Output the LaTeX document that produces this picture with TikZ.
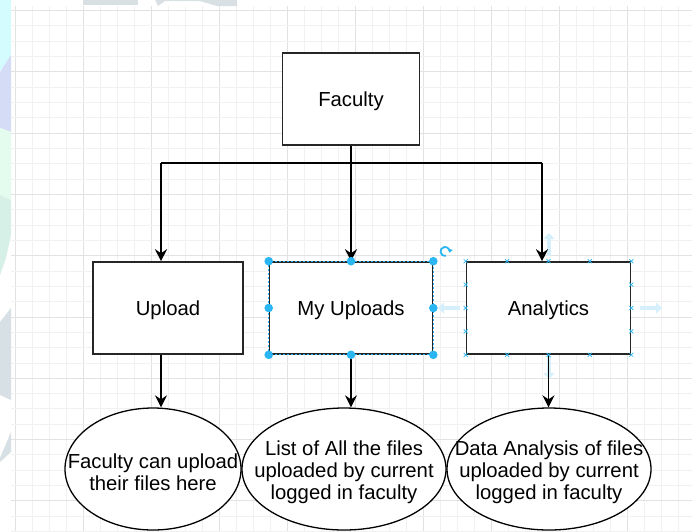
\documentclass[tikz,border=0pt]{standalone}
\usepackage{fontspec}
\setmainfont{Liberation Sans}
\usetikzlibrary{shapes.geometric,arrows.meta}
\definecolor{gminor}{HTML}{F1F1F1}
\definecolor{gmajor}{HTML}{E2E2E2}
\definecolor{selblue}{HTML}{29B6F2}
\definecolor{hoverblue}{HTML}{D6F0FB}
\definecolor{boxline}{HTML}{262626}
\tikzset{
  box/.style={draw=boxline,line width=1.6pt,fill=white,rectangle,minimum height=92pt,inner sep=0pt},
  boxtext/.style={font=\fontsize{20.3}{21.8}\selectfont,inner sep=0pt,yshift=-2pt},
  oval/.style={draw=black,line width=1.3pt,fill=white,ellipse,inner sep=0pt,minimum height=122pt},
  ovaltext/.style={align=center,inner sep=0pt,font=\fontsize{20.3}{21.8}\selectfont},
  conn/.style={draw=black,line width=1.8pt},
  arr/.style={conn,-{Stealth[length=12pt,width=12pt,inset=4pt]}},
  handle/.style={fill=selblue,draw=none},
  xmark/.style={draw=selblue,line width=0.7pt},
  hover/.style={draw=hoverblue,line width=4pt,-{Triangle[length=6pt,width=11pt]}}
}
\begin{document}
\begin{tikzpicture}[x=1pt,y=-1pt]
\useasboundingbox[fill=white] (0,0) rectangle (692,531);
% background blobs
\fill[color={rgb,255:red,212;green,252;blue,254}] (0,0) rectangle (11,70);
\fill[color={rgb,255:red,213;green,220;blue,246}] (0,72) -- (11,55) -- (11,132) -- (0,128) -- cycle;
\fill[color={rgb,255:red,228;green,252;blue,238}] (0,128) -- (11,132) -- (11,200) -- (0,195) -- cycle;
\fill[color={rgb,255:red,215;green,240;blue,231}] (0,195) -- (11,200) -- (11,235) -- (6,258) -- (0,275) -- cycle;
\fill[color={rgb,255:red,215;green,224;blue,228}] (0,322) -- (11,308) -- (11,400) -- (0,395) -- cycle;
\fill[color={rgb,255:red,215;green,224;blue,228}] (0,458) -- (11,432) -- (11,452) -- (0,462) -- cycle;
\fill[color={rgb,255:red,216;green,224;blue,227}] (83,0) rectangle (138,5);
\fill[color={rgb,255:red,216;green,224;blue,227}] (155,0) -- (237,0) -- (237,6) -- (217,6) -- (200,1) -- (165,1) -- (158,6) -- cycle;
% grid
\begin{scope}
\clip (11,6) rectangle (692,531);
\foreach \i in {0,...,40}{
  \pgfmathsetmacro{\xx}{15.5+17*\i}
  \pgfmathtruncatemacro{\mm}{mod(\i,4)}
  \ifnum\mm=0 \draw[gmajor,line width=0.8pt] (\xx,6) -- (\xx,531);
  \else \draw[gminor,line width=0.8pt] (\xx,6) -- (\xx,531); \fi
}
\foreach \j in {0,...,34}{
  \pgfmathsetmacro{\yy}{10.3+15.33*\j}
  \pgfmathtruncatemacro{\mm}{mod(\j,4)}
  \ifnum\mm=0 \draw[gmajor,line width=0.8pt] (11,\yy) -- (692,\yy);
  \else \draw[gminor,line width=0.8pt] (11,\yy) -- (692,\yy); \fi
}
\end{scope}
% hover arrows
\coordinate (hr0) at (640,308); \coordinate (hr1) at (662,308);
\coordinate (hl0) at (460,308); \coordinate (hl1) at (438,308);
\coordinate (hu0) at (549,256); \coordinate (hu1) at (549,233);
\coordinate (hd0) at (549,356); \coordinate (hd1) at (549,379);
\draw[hover] (hr0) -- (hr1);
\draw[hover] (hl0) -- (hl1);
\draw[hover] (hu0) -- (hu1);
\draw[hover] (hd0) -- (hd1);
% nodes
\node[box,minimum width=137pt] (faculty) at (351,99) {};
\node[boxtext] (tfac) at (faculty) {Faculty};
\node[box,minimum width=150pt] (upload) at (168,308) {};
\node[boxtext] (tup) at (upload) {Upload};
\node[box,minimum width=163pt] (myup) at (351,308) {};
\node[boxtext] (tmy) at (myup) {My Uploads};
\node[box,minimum width=164pt] (analytics) at (548.5,308) {};
\node[boxtext] (tan) at (analytics) {Analytics};
\node[oval,minimum width=176pt] (e1) at (153,469) {};
\node[ovaltext] (t1) at ([yshift=-3pt]e1) {Faculty can upload\\their files here};
\node[oval,minimum width=204pt] (e2) at (344,469) {};
\node[ovaltext] (t2) at ([yshift=-3.5pt]e2) {List of All the files\\uploaded by current\\logged in faculty};
\node[oval,minimum width=204pt] (e3) at (549,469) {};
\node[ovaltext] (t3) at ([yshift=-3.5pt]e3) {Data Analysis of files\\uploaded by current\\logged in faculty};
% connectors
\coordinate (jl) at (161,163);
\coordinate (jr) at (542,163);
\draw[conn] (jl) -- (jr);
\draw[arr] (faculty.south) -- (myup.north);
\draw[arr] (jl) -- (jl |- upload.north);
\draw[arr] (jr) -- (jr |- analytics.north);
\draw[arr] (jl |- upload.south) -- (jl |- e1.north);
\draw[arr] (myup.south) -- (myup.south |- e2.north);
\draw[arr] (analytics.south) -- (analytics.south |- e3.north);
% selection of My Uploads
\draw[selblue,line width=0.8pt,dash pattern=on 2pt off 2pt] (myup.north west) rectangle (myup.south east);
\foreach \a in {north west,north,north east,west,east,south west,south,south east}
  \fill[handle] (myup.\a) circle (4.3pt);
\coordinate (rot) at (445,251.5);
\draw[selblue,line width=1.8pt,-{Triangle[length=3.5pt,width=5pt]}] ([shift={(-80:4.5pt)}]rot) arc[start angle=-80,end angle=-375,radius=4.5pt];
% connection points of Analytics
\foreach \t in {0,0.25,0.5,0.75,1}{
  \path (analytics.north west) -- (analytics.north east) coordinate[pos=\t] (p);
  \draw[xmark] ([shift={(-2,-2)}]p) -- ([shift={(2,2)}]p) ([shift={(-2,2)}]p) -- ([shift={(2,-2)}]p);
  \path (analytics.south west) -- (analytics.south east) coordinate[pos=\t] (p);
  \draw[xmark] ([shift={(-2,-2)}]p) -- ([shift={(2,2)}]p) ([shift={(-2,2)}]p) -- ([shift={(2,-2)}]p);
}
\foreach \t in {0.25,0.5,0.75}{
  \path (analytics.north west) -- (analytics.south west) coordinate[pos=\t] (p);
  \draw[xmark] ([shift={(-2,-2)}]p) -- ([shift={(2,2)}]p) ([shift={(-2,2)}]p) -- ([shift={(2,-2)}]p);
  \path (analytics.north east) -- (analytics.south east) coordinate[pos=\t] (p);
  \draw[xmark] ([shift={(-2,-2)}]p) -- ([shift={(2,2)}]p) ([shift={(-2,2)}]p) -- ([shift={(2,-2)}]p);
}
\end{tikzpicture}
\end{document}
